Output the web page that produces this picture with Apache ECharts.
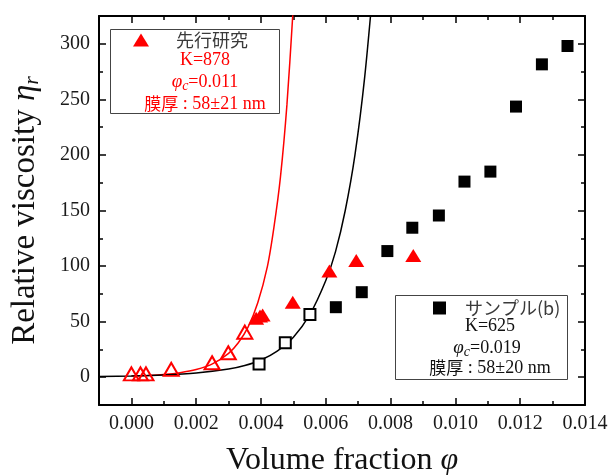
<!DOCTYPE html>
<html><head><meta charset="utf-8">
<script src="https://cdn.jsdelivr.net/npm/echarts@6/dist/echarts.min.js"></script>
<style>html,body{margin:0;padding:0;background:#fff}#c{width:611px;height:475px}</style>
</head><body><div id="c"></div>
<script>
// ---- data ----
const xMajorTicks = [0, 0.002, 0.004, 0.006, 0.008, 0.010, 0.012, 0.014];
const xMinorTicks = [0.001, 0.003, 0.005, 0.007, 0.009, 0.011, 0.013];
const yMajorTicks = [0, 50, 100, 150, 200, 250, 300];
const yMinorTicks = [25, 75, 125, 175, 225, 275];

const redOpenPhi = [0.0000, 0.00028, 0.00045, 0.00123, 0.00249, 0.00299, 0.00350];
const redOpenEta = [3, 3, 3, 7, 13, 22, 40.5];
const redFilledPhi = [0.00385, 0.00397, 0.00405, 0.00498, 0.00611, 0.00694, 0.00870];
const redFilledEta = [53, 55, 56, 67.5, 95.5, 105, 109.5];

const blackOpenPhi = [0.00394, 0.00475, 0.00551];
const blackOpenEta = [12, 31, 56.5];
const blackFilledPhi = [0.00631, 0.00711, 0.00790, 0.00867, 0.00949, 0.01028, 0.01108, 0.01187, 0.01267, 0.01346];
const blackFilledEta = [63, 76.5, 113.5, 134.5, 145.5, 176, 185, 243.5, 281.5, 298];

// fitted curves
const redCurvePhi = [0, 0.0005, 0.001, 0.0015, 0.002, 0.0025, 0.003, 0.0033, 0.0036, 0.0039, 0.0042, 0.0044, 0.0046, 0.0048, 0.0050];
const redCurveEta = [1, 1.6, 2.5, 4.1, 6.9, 12, 21.5, 31, 45, 67, 100, 135, 180, 245, 335];
const blackCurvePhi = [-0.001, 0, 0.001, 0.002, 0.003, 0.0035, 0.004, 0.0045, 0.005, 0.0055, 0.006, 0.0063, 0.0066, 0.0069, 0.0072, 0.0075];
const blackCurveEta = [0.6, 1, 1.9, 3.7, 7.3, 10.5, 15.5, 23.5, 36, 56, 87, 113, 150, 200, 270, 365];

const zip = (a, b) => a.map((v, i) => [v, b[i]]);

const SERIF = '"Liberation Serif","Times New Roman",serif';
const CJK = '"Noto Sans CJK JP","Noto Sans CJK SC",sans-serif';
const XMIN = -0.001, XMAX = 0.014, YMIN = -25, YMAX = 325;

function xAx(pos, ticks, len, showLine, showLabel, extra) {
  return Object.assign({
    type: 'value', position: pos, min: XMIN, max: XMAX,
    axisLine: { show: showLine, onZero: false, lineStyle: { color: '#000', width: 2 } },
    axisTick: { show: true, inside: true, length: len, customValues: ticks, lineStyle: { color: '#000', width: 1.5 } },
    axisLabel: { show: showLabel, customValues: xMajorTicks, formatter: v => v.toFixed(3), color: '#1a1a1a', fontFamily: SERIF, fontSize: 20, margin: 9 },
    splitLine: { show: false }
  }, extra || {});
}
function yAx(pos, ticks, len, showLine, showLabel, extra) {
  return Object.assign({
    type: 'value', position: pos, min: YMIN, max: YMAX,
    axisLine: { show: showLine, onZero: false, lineStyle: { color: '#000', width: 2 } },
    axisTick: { show: true, inside: true, length: len, customValues: ticks, lineStyle: { color: '#000', width: 1.5 } },
    axisLabel: { show: showLabel, customValues: yMajorTicks, color: '#1a1a1a', fontFamily: SERIF, fontSize: 20, margin: 9 },
    splitLine: { show: false }
  }, extra || {});
}

const chart = echarts.init(document.getElementById('c'), null, { renderer: 'canvas' });
chart.setOption({
  animation: false,
  backgroundColor: '#fff',
  grid: { left: 99, right: 26, top: 16, bottom: 70, containLabel: false, outerBoundsMode: 'none' },
  xAxis: [
    xAx('bottom', xMajorTicks, 7, true, true, {
      name: 'Volume fraction {p|φ}', nameLocation: 'middle', nameGap: 40,
      nameTextStyle: { fontFamily: SERIF, fontSize: 32, color: '#111',
        rich: { p: { fontFamily: SERIF, fontStyle: 'italic', fontSize: 32, color: '#111' } } }
    }),
    xAx('bottom', xMinorTicks, 4, false, false),
    xAx('top', xMajorTicks, 7, true, false),
    xAx('top', xMinorTicks, 4, false, false)
  ],
  yAxis: [
    yAx('left', yMajorTicks, 7, true, true, {
      name: 'Relative viscosity {e|η}{r|r}', nameLocation: 'middle', nameGap: 56, nameRotate: 90,
      nameTextStyle: { fontFamily: SERIF, fontSize: 33, color: '#111',
        rich: { e: { fontFamily: SERIF, fontStyle: 'italic', fontSize: 33, color: '#111' },
                r: { fontFamily: SERIF, fontStyle: 'italic', fontSize: 22, color: '#111', padding: [13, 0, 0, 0] } } }
    }),
    yAx('left', yMinorTicks, 4, false, false),
    yAx('right', yMajorTicks, 7, true, false),
    yAx('right', yMinorTicks, 4, false, false)
  ],
  legend: [
    { data: ['先行研究'], left: 133, top: 31, itemWidth: 16, itemHeight: 13, padding: 0,
      textStyle: { fontFamily: CJK, fontSize: 18, color: '#3a3a3a', padding: [0, 0, 0, 22] } },
    { data: ['サンプル(b)'], left: 433, top: 299, itemWidth: 13, itemHeight: 13, padding: 0,
      textStyle: { fontFamily: CJK, fontSize: 18, color: '#3a3a3a', padding: [0, 0, 0, 14] } }
  ],
  graphic: [
    { type: 'rect', shape: { x: 110.5, y: 29.5, width: 169, height: 84 }, style: { fill: 'none', stroke: '#444', lineWidth: 1 }, z: 10 },
    { type: 'rect', shape: { x: 395.5, y: 295.5, width: 172, height: 84 }, style: { fill: '#fff', stroke: '#444', lineWidth: 1 }, z: 1 },
    { type: 'text', x: 205, y: 60, z: 11, style: { text: 'K=878', fill: '#ff0000', font: '18px ' + SERIF, align: 'center', verticalAlign: 'middle' } },
    { type: 'text', x: 205, y: 82, z: 11, style: { text: '{p|φ}{c|c}{n|=0.011}', align: 'center', verticalAlign: 'middle',
        rich: { p: { fill: '#ff0000', fontFamily: SERIF, fontStyle: 'italic', fontSize: 19 },
                c: { fill: '#ff0000', fontFamily: SERIF, fontStyle: 'italic', fontSize: 14, padding: [8, 0, 0, 0] },
                n: { fill: '#ff0000', fontFamily: SERIF, fontSize: 18 } } } },
    { type: 'text', x: 205, y: 104, z: 11, style: { text: '{j|膜厚}{n| : 58±21 nm}', align: 'center', verticalAlign: 'middle',
        rich: { j: { fill: '#ff0000', fontFamily: CJK, fontSize: 17 }, n: { fill: '#ff0000', fontFamily: SERIF, fontSize: 18 } } } },
    { type: 'text', x: 490, y: 326, z: 11, style: { text: 'K=625', fill: '#111', font: '18px ' + SERIF, align: 'center', verticalAlign: 'middle' } },
    { type: 'text', x: 487, y: 348, z: 11, style: { text: '{p|φ}{c|c}{n|=0.019}', align: 'center', verticalAlign: 'middle',
        rich: { p: { fill: '#111', fontFamily: SERIF, fontStyle: 'italic', fontSize: 19 },
                c: { fill: '#111', fontFamily: SERIF, fontStyle: 'italic', fontSize: 14, padding: [8, 0, 0, 0] },
                n: { fill: '#111', fontFamily: SERIF, fontSize: 18 } } } },
    { type: 'text', x: 490, y: 368, z: 11, style: { text: '{j|膜厚}{n| : 58±20 nm}', align: 'center', verticalAlign: 'middle',
        rich: { j: { fill: '#111', fontFamily: CJK, fontSize: 17 }, n: { fill: '#111', fontFamily: SERIF, fontSize: 18 } } } }
  ],
  series: [
    { type: 'line', name: 'redfit', data: zip(redCurvePhi, redCurveEta), showSymbol: false, smooth: 0.3, clip: true,
      lineStyle: { color: '#ff0000', width: 1.5 }, z: 2, silent: true },
    { type: 'line', name: 'blackfit', data: zip(blackCurvePhi, blackCurveEta), showSymbol: false, smooth: 0.3, clip: true,
      lineStyle: { color: '#000', width: 1.5 }, z: 2, silent: true },
    { type: 'scatter', name: 'redOpen', data: zip(redOpenPhi, redOpenEta), symbol: 'triangle', symbolSize: [15, 13],
      itemStyle: { color: 'rgba(255,255,255,0)', borderColor: '#ff0000', borderWidth: 2, opacity: 1 }, z: 3 },
    { type: 'scatter', name: '先行研究', data: zip(redFilledPhi, redFilledEta), symbol: 'triangle', symbolSize: [16, 13],
      itemStyle: { color: '#ff0000', opacity: 1 }, z: 4 },
    { type: 'scatter', name: 'blackOpen', data: zip(blackOpenPhi, blackOpenEta), symbol: 'rect', symbolSize: 11,
      itemStyle: { color: '#fff', borderColor: '#000', borderWidth: 2, opacity: 1 }, z: 3 },
    { type: 'scatter', name: 'サンプル(b)', data: zip(blackFilledPhi, blackFilledEta), symbol: 'rect', symbolSize: 12,
      itemStyle: { color: '#000', opacity: 1 }, z: 4 }
  ]
});
</script>
</body></html>
